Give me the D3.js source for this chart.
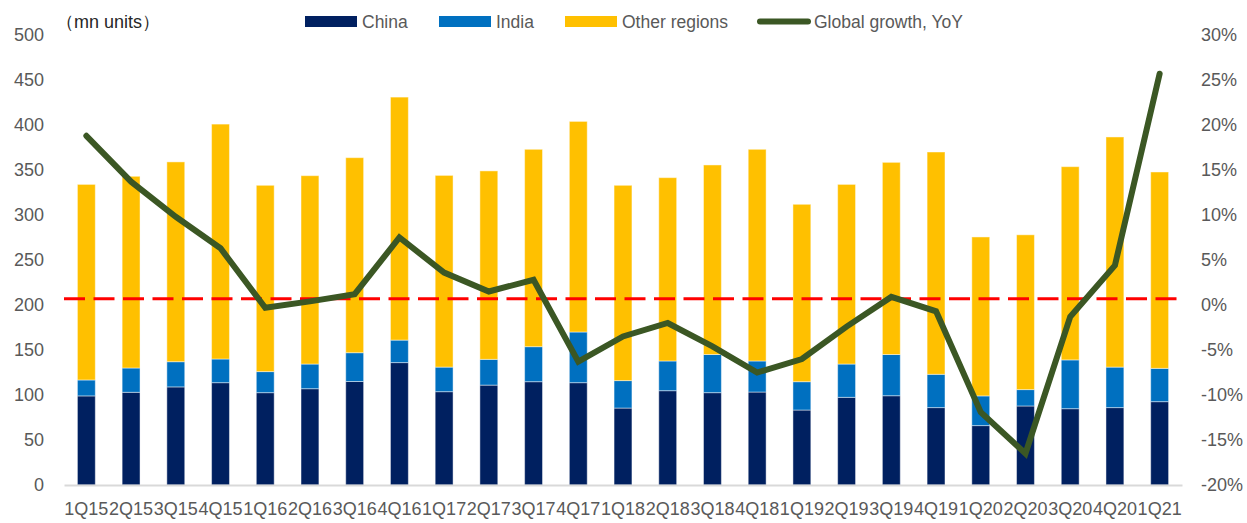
<!DOCTYPE html>
<html>
<head>
<meta charset="utf-8">
<script src="https://cdn.jsdelivr.net/npm/d3@7"></script>
<style>
  body { margin: 0; background: #fff; }
  text { font-family: "Liberation Sans", Arial, sans-serif; }
</style>
</head>
<body>
<div id="chart"></div>
<script>
var quarters = ["1Q15","2Q15","3Q15","4Q15","1Q16","2Q16","3Q16","4Q16","1Q17","2Q17","3Q17","4Q17",
                "1Q18","2Q18","3Q18","4Q18","1Q19","2Q19","3Q19","4Q19","1Q20","2Q20","3Q20","4Q20","1Q21"];

// shipments, mn units
var china = [99, 103, 109, 113.7, 102.6, 107, 115, 136, 103.7, 111, 114.8, 113.7,
             85.5, 104.8, 102.6, 103.3, 83.3, 97.4, 99.2, 86, 66, 87.8, 84.8, 86, 92.6];
var india = [17.7, 27, 28, 26.3, 23.4, 27.4, 32, 25, 27.3, 28.6, 38.9, 56.3,
             30.5, 33, 42.4, 34.5, 31.5, 37, 45.8, 37, 33, 18.2, 54.2, 45, 37];
var other = [217.3, 213, 222, 261, 207, 209.3, 216.7, 270, 213, 209.4, 219.3, 234,
             217, 203.7, 210.6, 235.2, 197.1, 199.6, 213.5, 247, 176.6, 172, 214.7, 255.7, 218.2];

// global growth YoY, %
var growth = [18.8, 13.7, 9.8, 6.3, -0.3, 0.4, 1.2, 7.5, 3.6, 1.5, 2.8, -6.3,
              -3.5, -2.0, -4.6, -7.5, -6.0, -2.4, 0.9, -0.7, -11.9, -16.5, -1.3, 4.4, 25.7];

var leftTicks = [0, 50, 100, 150, 200, 250, 300, 350, 400, 450, 500];
var rightTicks = [-20, -15, -10, -5, 0, 5, 10, 15, 20, 25, 30];
var refLevel = 0.7;

var seriesNames = ["China", "India", "Other regions"];
var colors = ["#002060", "#0070C0", "#FFC000"];
var lineColor = "#3B5724";

var svgWidth = 1247;
var svgHeight = 523;
var margin = { top: 35, right: 65, bottom: 38, left: 64 };
var width = svgWidth - margin.left - margin.right;
var height = svgHeight - margin.top - margin.bottom;

var svg = d3.select("#chart")
  .append("svg")
  .attr("width", svgWidth)
  .attr("height", svgHeight);

var chartGroup = svg.append("g")
  .attr("transform", `translate(${margin.left}, ${margin.top})`);

var xScale = d3.scaleBand()
  .domain(quarters)
  .range([0, width])
  .paddingInner(0.6)
  .paddingOuter(0.3);

var yLeft = d3.scaleLinear().domain([0, 500]).range([height, 0]);
var yRight = d3.scaleLinear().domain([-20, 30]).range([height, 0]);

var table = quarters.map(function(q, i) {
  return { quarter: q, "China": china[i], "India": india[i], "Other regions": other[i] };
});
var stacked = d3.stack().keys(seriesNames)(table);

// stacked bars
chartGroup.selectAll(".series")
  .data(stacked)
  .enter()
  .append("g")
  .attr("class", "series")
  .attr("fill", (d, i) => colors[i])
  .selectAll("rect")
  .data(d => d)
  .enter()
  .append("rect")
  .attr("x", d => xScale(d.data.quarter))
  .attr("y", d => yLeft(d[1]))
  .attr("width", xScale.bandwidth())
  .attr("height", d => yLeft(d[0]) - yLeft(d[1]))
  .attr("stroke", "rgba(255,255,255,0.45)")
  .attr("stroke-width", 1);

// x axis
var bottomAxis = d3.axisBottom(xScale).tickSize(0).tickPadding(17);
var xAxis = chartGroup.append("g")
  .attr("transform", `translate(0, ${height})`)
  .call(bottomAxis);
xAxis.select(".domain").attr("stroke", "#D9D9D9").attr("stroke-width", 2);
xAxis.selectAll("text")
  .attr("fill", "#595959")
  .style("font-size", "18px");

// left axis
var leftAxis = d3.axisLeft(yLeft).tickValues(leftTicks).tickSize(0).tickPadding(20);
var yAxisLeft = chartGroup.append("g").call(leftAxis);
yAxisLeft.select(".domain").remove();
yAxisLeft.selectAll("text").attr("fill", "#595959").style("font-size", "18px");

// right axis
var rightAxis = d3.axisRight(yRight).tickValues(rightTicks).tickSize(0).tickPadding(19)
  .tickFormat(d => d + "%");
var yAxisRight = chartGroup.append("g")
  .attr("transform", `translate(${width}, 0)`)
  .call(rightAxis);
yAxisRight.select(".domain").remove();
yAxisRight.selectAll("text").attr("fill", "#595959").style("font-size", "18px");

// red dashed reference line
chartGroup.append("line")
  .attr("x1", 0)
  .attr("x2", width)
  .attr("y1", yRight(refLevel))
  .attr("y2", yRight(refLevel))
  .attr("stroke", "#FF0000")
  .attr("stroke-width", 3)
  .attr("stroke-dasharray", "21,8.5");

// growth line
var line = d3.line()
  .x((d, i) => xScale(quarters[i]) + xScale.bandwidth() / 2)
  .y(d => yRight(d));

chartGroup.append("path")
  .datum(growth)
  .attr("d", line)
  .attr("fill", "none")
  .attr("stroke", lineColor)
  .attr("stroke-width", 6)
  .attr("stroke-linecap", "round");

// unit label
svg.append("text")
  .attr("x", 56)
  .attr("y", 28)
  .attr("fill", "#262626")
  .style("font-size", "18px")
  .text("（mn units）");

// legend
var legendItems = [
  { name: "China", color: colors[0], x: 305, type: "bar" },
  { name: "India", color: colors[1], x: 439, type: "bar" },
  { name: "Other regions", color: colors[2], x: 565, type: "bar" },
  { name: "Global growth, YoY", color: lineColor, x: 757, type: "line" }
];

var legend = svg.append("g");
legendItems.forEach(function(item) {
  if (item.type === "bar") {
    legend.append("rect")
      .attr("x", item.x)
      .attr("y", 16)
      .attr("width", 52)
      .attr("height", 11)
      .attr("fill", item.color);
  } else {
    legend.append("line")
      .attr("x1", item.x + 3)
      .attr("x2", item.x + 51)
      .attr("y1", 21.5)
      .attr("y2", 21.5)
      .attr("stroke", item.color)
      .attr("stroke-width", 6)
      .attr("stroke-linecap", "round");
  }
  legend.append("text")
    .attr("x", item.x + 57)
    .attr("y", 28)
    .attr("fill", "#595959")
    .style("font-size", "17.5px")
    .text(item.name);
});
</script>
</body>
</html>
